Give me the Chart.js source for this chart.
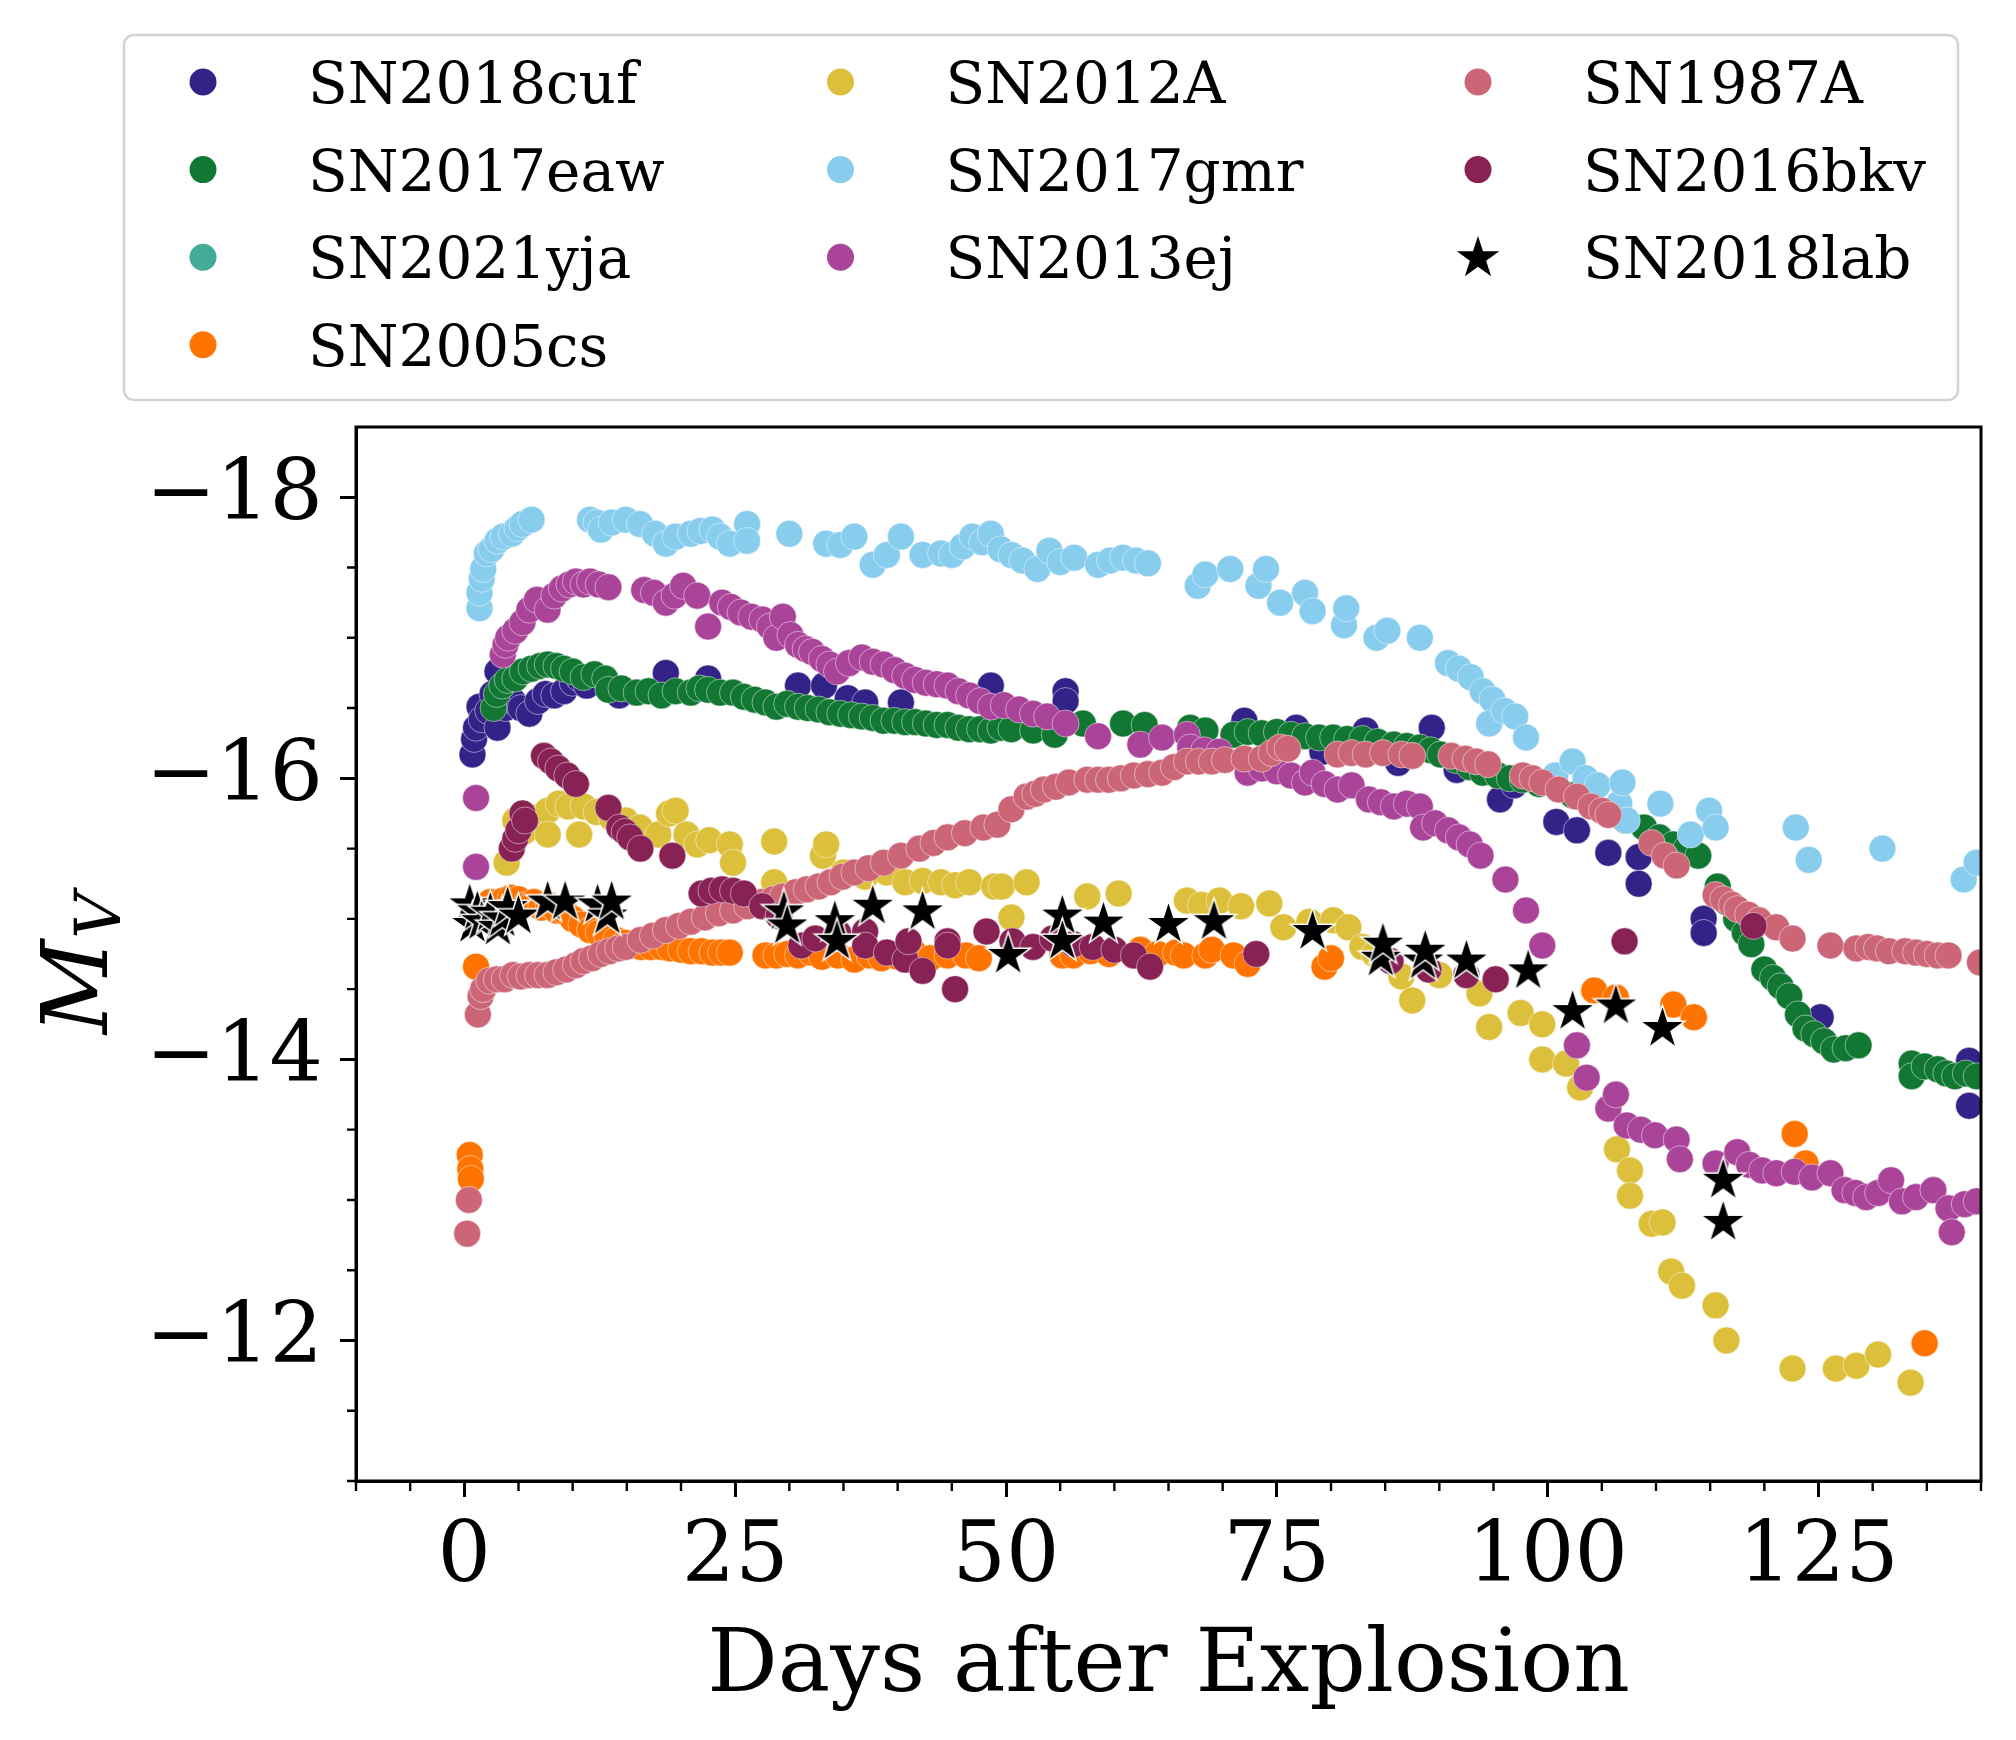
<!DOCTYPE html>
<html>
<head>
<meta charset="utf-8">
<title>Type II SN V-band light curves</title>
<script src="https://cdn.jsdelivr.net/npm/chart.js@4.4.0/dist/chart.umd.min.js"></script>
<style>
  html, body { margin: 0; padding: 0; background: #fff; }
  #wrap { width: 2016px; height: 1740px; }
</style>
</head>
<body>
<div id="wrap"><canvas id="lcChart" width="2016" height="1740"></canvas></div>
<script>
// Values: [days after explosion, M_V]
const sn2018cuf = [[0.75,-16.17],[0.9,-16.28],[1.08,-16.36],[1.4,-16.51],[1.6,-16.42],[2.2,-16.48],[2.6,-16.6],[3.06,-16.76],[3.06,-16.36],[3.8,-16.5],[4.5,-16.55],[5.2,-16.5],[6.0,-16.46],[6.8,-16.55],[7.5,-16.6],[8.3,-16.59],[9.2,-16.62],[10.0,-16.68],[10.6,-16.71],[11.3,-16.66],[14.3,-16.59],[18.6,-16.75],[22.5,-16.71],[30.8,-16.66],[33.2,-16.66],[35.4,-16.57],[37.0,-16.54],[40.3,-16.54],[48.6,-16.66],[55.5,-16.62],[55.5,-16.55],[72.0,-16.41],[76.8,-16.36],[79.2,-16.19],[83.2,-16.34],[86.2,-16.11],[89.3,-16.36],[91.6,-16.06],[95.6,-15.85],[96.9,-15.95],[100.8,-15.69],[102.7,-15.63],[105.6,-15.47],[108.4,-15.44],[108.4,-15.25],[114.4,-15.0],[114.4,-14.9],[125.2,-14.3],[138.9,-13.99],[138.9,-13.67]];
const sn2017eaw = [[2.7,-16.5],[3.0,-16.6],[3.5,-16.66],[4.0,-16.7],[4.7,-16.71],[5.4,-16.76],[6.2,-16.78],[7.0,-16.8],[7.7,-16.81],[8.5,-16.8],[9.2,-16.78],[10.0,-16.76],[11.0,-16.72],[12.0,-16.74],[13.0,-16.71],[13.3,-16.63],[14.5,-16.64],[15.9,-16.61],[17.0,-16.62],[18.2,-16.59],[19.5,-16.62],[20.9,-16.61],[21.7,-16.64],[22.5,-16.63],[23.6,-16.61],[24.8,-16.61],[25.8,-16.58],[26.8,-16.56],[27.8,-16.54],[28.8,-16.51],[29.8,-16.53],[30.8,-16.51],[31.7,-16.5],[32.7,-16.49],[33.7,-16.47],[34.7,-16.46],[35.7,-16.45],[36.7,-16.44],[37.7,-16.43],[38.7,-16.41],[39.7,-16.41],[40.7,-16.4],[41.6,-16.4],[42.6,-16.39],[43.6,-16.38],[44.6,-16.38],[45.6,-16.36],[46.6,-16.35],[47.6,-16.35],[48.6,-16.34],[49.5,-16.36],[50.5,-16.35],[52.5,-16.34],[54.5,-16.31],[57.1,-16.39],[60.8,-16.39],[62.8,-16.38],[67.0,-16.36],[68.4,-16.34],[71.0,-16.31],[72.3,-16.33],[73.6,-16.32],[75.0,-16.33],[76.3,-16.31],[77.6,-16.3],[78.9,-16.29],[80.2,-16.29],[81.5,-16.28],[82.9,-16.28],[84.3,-16.26],[85.8,-16.24],[87.0,-16.23],[88.2,-16.22],[89.2,-16.2],[90.1,-16.17],[91.5,-16.13],[92.8,-16.08],[94.0,-16.04],[95.4,-16.02],[96.5,-16.0],[97.7,-15.99],[99.2,-15.96],[100.7,-15.95],[102.3,-15.88],[104.0,-15.82],[105.5,-15.76],[107.2,-15.7],[108.9,-15.65],[110.3,-15.58],[111.6,-15.53],[112.8,-15.5],[113.9,-15.45],[115.7,-15.23],[116.5,-15.12],[117.4,-15.0],[118.2,-14.9],[118.8,-14.82],[120.0,-14.64],[120.8,-14.58],[121.5,-14.52],[122.3,-14.45],[123.1,-14.32],[123.8,-14.22],[124.6,-14.18],[125.5,-14.13],[126.4,-14.07],[127.5,-14.08],[128.7,-14.1],[133.6,-13.97],[133.6,-13.88],[134.8,-13.95],[136.0,-13.93],[136.8,-13.9],[137.6,-13.88],[138.6,-13.9],[139.6,-13.88]];
const sn2021yja = [];
const sn2005cs = [[0.5,-13.32],[0.55,-13.22],[0.6,-13.15],[1.08,-14.66],[1.3,-15.0],[1.8,-15.08],[2.4,-15.12],[3.0,-15.1],[3.6,-15.13],[4.3,-15.15],[5.0,-15.14],[5.7,-15.1],[6.4,-15.12],[7.1,-15.08],[7.8,-15.1],[8.5,-15.06],[9.3,-15.05],[10.0,-15.0],[10.8,-14.96],[11.6,-14.92],[12.4,-14.9],[13.2,-14.87],[14.0,-14.85],[14.8,-14.83],[15.6,-14.81],[16.3,-14.8],[17.2,-14.8],[18.2,-14.8],[19.0,-14.79],[20.0,-14.78],[20.9,-14.77],[21.9,-14.77],[22.9,-14.76],[23.7,-14.76],[24.5,-14.76],[27.8,-14.74],[28.8,-14.74],[29.8,-14.75],[30.8,-14.74],[32.0,-14.76],[33.0,-14.73],[34.5,-14.74],[36.0,-14.71],[37.4,-14.74],[38.5,-14.72],[40.0,-14.73],[41.5,-14.76],[43.0,-14.72],[44.6,-14.74],[46.3,-14.74],[47.5,-14.72],[55.2,-14.74],[56.2,-14.74],[57.8,-14.77],[59.5,-14.75],[61.8,-14.74],[62.4,-14.78],[64.0,-14.75],[65.7,-14.76],[66.4,-14.74],[68.4,-14.74],[69.0,-14.78],[71.0,-14.74],[72.3,-14.68],[79.4,-14.66],[80.0,-14.72],[104.3,-14.49],[106.3,-14.44],[111.6,-14.39],[113.5,-14.3],[122.8,-13.47],[123.8,-13.26],[134.8,-11.98]];
const sn2012A = [[3.9,-15.4],[4.7,-15.7],[5.5,-15.62],[6.3,-15.72],[7.7,-15.77],[7.7,-15.6],[8.7,-15.82],[9.6,-15.8],[10.6,-15.6],[11.0,-15.8],[12.2,-15.76],[13.6,-15.72],[14.9,-15.7],[16.2,-15.65],[17.9,-15.6],[18.9,-15.75],[19.5,-15.77],[20.5,-15.6],[21.5,-15.53],[22.6,-15.56],[24.5,-15.53],[24.8,-15.4],[28.6,-15.55],[28.6,-15.26],[30.5,-15.18],[33.1,-15.45],[33.4,-15.53],[35.0,-15.33],[37.0,-15.3],[39.0,-15.33],[40.7,-15.26],[42.3,-15.27],[44.0,-15.26],[45.3,-15.24],[46.6,-15.26],[48.9,-15.23],[49.6,-15.23],[50.5,-15.01],[51.9,-15.26],[57.5,-15.16],[60.4,-15.18],[66.7,-15.13],[68.0,-15.1],[69.7,-15.13],[71.7,-15.09],[74.3,-15.11],[75.6,-14.94],[78.0,-14.98],[80.2,-14.99],[81.6,-14.94],[82.9,-14.8],[84.0,-14.75],[86.5,-14.59],[87.5,-14.42],[90.0,-14.6],[93.7,-14.47],[94.6,-14.23],[97.5,-14.33],[99.5,-14.25],[99.5,-14.0],[101.7,-13.97],[103.0,-13.8],[106.4,-13.36],[107.6,-13.21],[107.6,-13.03],[109.6,-12.83],[110.6,-12.84],[111.4,-12.49],[112.4,-12.39],[115.5,-12.25],[116.5,-12.0],[122.6,-11.8],[126.6,-11.8],[128.5,-11.82],[130.5,-11.9],[133.5,-11.7]];
const sn2017gmr = [[1.4,-17.21],[1.4,-17.32],[1.6,-17.42],[1.74,-17.49],[2.07,-17.6],[2.5,-17.63],[3.06,-17.69],[3.6,-17.72],[4.38,-17.74],[4.9,-17.78],[5.37,-17.81],[6.2,-17.84],[11.6,-17.84],[12.2,-17.82],[12.6,-17.77],[13.6,-17.82],[14.9,-17.84],[16.2,-17.81],[17.6,-17.74],[18.6,-17.67],[19.5,-17.72],[20.9,-17.74],[21.8,-17.76],[22.9,-17.77],[23.6,-17.72],[24.5,-17.67],[26.1,-17.81],[26.1,-17.69],[30.0,-17.74],[33.4,-17.67],[34.7,-17.66],[36.0,-17.72],[37.7,-17.52],[39.0,-17.59],[40.3,-17.72],[42.3,-17.59],[44.0,-17.6],[45.0,-17.59],[46.0,-17.65],[46.9,-17.72],[47.8,-17.68],[48.6,-17.74],[49.5,-17.63],[50.5,-17.59],[51.5,-17.55],[52.9,-17.49],[54.0,-17.62],[55.0,-17.54],[56.3,-17.57],[58.5,-17.52],[59.6,-17.55],[60.8,-17.57],[62.0,-17.55],[63.1,-17.53],[67.7,-17.37],[68.4,-17.45],[70.7,-17.49],[73.3,-17.37],[74.0,-17.49],[75.3,-17.25],[77.6,-17.32],[78.3,-17.19],[81.2,-17.09],[81.4,-17.21],[84.2,-17.0],[85.2,-17.05],[88.2,-17.0],[90.8,-16.82],[91.8,-16.78],[92.9,-16.72],[94.0,-16.62],[94.9,-16.56],[94.6,-16.39],[96.0,-16.48],[97.0,-16.44],[98.0,-16.29],[100.7,-16.02],[102.3,-16.12],[103.5,-16.0],[104.6,-15.95],[106.6,-15.82],[106.9,-15.97],[107.3,-15.7],[110.4,-15.82],[113.2,-15.6],[114.9,-15.77],[115.5,-15.65],[122.9,-15.65],[124.1,-15.42],[130.9,-15.5],[138.4,-15.28],[139.6,-15.4]];
const sn2013ej = [[1.08,-15.86],[1.08,-15.37],[3.55,-16.88],[3.8,-16.95],[4.05,-17.0],[4.7,-17.05],[5.37,-17.11],[6.0,-17.2],[6.7,-17.27],[7.68,-17.2],[8.3,-17.3],[9.0,-17.35],[9.7,-17.38],[10.3,-17.4],[11.0,-17.38],[11.6,-17.4],[12.4,-17.38],[13.3,-17.36],[16.6,-17.34],[17.5,-17.32],[18.6,-17.25],[19.4,-17.3],[20.2,-17.37],[21.5,-17.3],[22.5,-17.08],[23.8,-17.25],[24.6,-17.22],[25.5,-17.18],[26.5,-17.15],[27.5,-17.13],[28.2,-17.08],[28.8,-17.0],[29.4,-17.15],[30.1,-17.02],[30.8,-16.95],[31.5,-16.92],[32.1,-16.9],[33.0,-16.85],[33.7,-16.81],[34.4,-16.76],[35.5,-16.82],[36.7,-16.86],[37.7,-16.83],[38.7,-16.81],[39.7,-16.77],[40.7,-16.73],[41.6,-16.7],[42.6,-16.68],[43.6,-16.67],[44.6,-16.66],[45.6,-16.62],[46.6,-16.59],[47.6,-16.55],[48.6,-16.51],[49.8,-16.52],[51.2,-16.49],[52.5,-16.46],[53.8,-16.44],[55.5,-16.39],[58.5,-16.3],[62.4,-16.24],[64.4,-16.29],[66.7,-16.31],[67.0,-16.22],[68.3,-16.2],[69.7,-16.19],[72.3,-16.04],[73.6,-16.07],[75.0,-16.05],[76.3,-16.02],[77.6,-15.97],[78.3,-16.04],[79.4,-15.96],[80.6,-15.92],[81.9,-15.95],[83.5,-15.85],[84.6,-15.83],[85.8,-15.8],[87.0,-15.82],[88.2,-15.8],[88.5,-15.65],[89.6,-15.68],[90.8,-15.63],[91.8,-15.58],[92.8,-15.53],[93.8,-15.45],[96.1,-15.28],[98.0,-15.06],[99.5,-14.81],[102.7,-14.1],[103.6,-13.87],[105.6,-13.65],[106.3,-13.75],[107.3,-13.53],[108.6,-13.5],[109.9,-13.46],[111.9,-13.43],[112.2,-13.29],[115.5,-13.26],[117.5,-13.34],[118.6,-13.25],[119.8,-13.21],[121.1,-13.19],[122.8,-13.2],[124.4,-13.16],[126.1,-13.19],[127.4,-13.07],[128.4,-13.05],[129.4,-13.02],[130.5,-13.05],[131.7,-13.14],[132.7,-12.99],[134.0,-13.02],[135.6,-13.07],[137.0,-12.94],[137.3,-12.77],[138.5,-12.97],[139.6,-12.99]];
const sn1987A = [[0.26,-12.76],[0.42,-13.0],[1.25,-14.32],[1.5,-14.45],[1.74,-14.5],[2.3,-14.56],[3.0,-14.57],[3.72,-14.57],[4.5,-14.6],[5.2,-14.59],[6.0,-14.6],[6.8,-14.6],[7.68,-14.6],[8.5,-14.62],[9.4,-14.64],[10.3,-14.67],[11.0,-14.7],[11.8,-14.72],[12.6,-14.75],[13.4,-14.77],[14.2,-14.79],[14.9,-14.8],[16.25,-14.85],[17.4,-14.88],[18.6,-14.92],[19.8,-14.95],[20.9,-14.98],[22.2,-15.01],[23.5,-15.04],[24.8,-15.06],[26.1,-15.09],[27.4,-15.12],[28.5,-15.14],[29.4,-15.16],[30.6,-15.19],[31.6,-15.21],[32.7,-15.23],[33.8,-15.26],[34.9,-15.3],[36.0,-15.33],[37.3,-15.36],[38.7,-15.4],[40.3,-15.45],[42.0,-15.5],[43.3,-15.54],[44.6,-15.58],[46.2,-15.61],[47.9,-15.65],[49.2,-15.67],[50.5,-15.78],[51.9,-15.87],[52.7,-15.89],[53.5,-15.92],[54.6,-15.94],[55.8,-15.97],[57.5,-15.99],[58.5,-15.99],[59.5,-15.99],[60.6,-16.0],[61.8,-16.02],[63.1,-16.03],[64.4,-16.04],[65.5,-16.08],[66.7,-16.12],[67.8,-16.12],[69.0,-16.12],[70.2,-16.13],[72.0,-16.14],[73.6,-16.14],[74.5,-16.18],[75.3,-16.22],[76.0,-16.21],[80.6,-16.17],[81.9,-16.18],[83.2,-16.17],[84.8,-16.18],[86.5,-16.17],[87.5,-16.16],[91.1,-16.16],[92.4,-16.14],[93.4,-16.12],[94.5,-16.1],[97.7,-16.02],[98.6,-16.0],[99.5,-15.97],[101.0,-15.92],[102.7,-15.87],[104.0,-15.8],[105.0,-15.77],[105.6,-15.74],[109.6,-15.54],[110.8,-15.45],[111.9,-15.38],[115.5,-15.17],[116.2,-15.14],[117.0,-15.1],[117.5,-15.07],[118.5,-15.03],[119.5,-14.99],[121.1,-14.94],[122.6,-14.86],[126.1,-14.81],[128.5,-14.79],[129.6,-14.8],[130.4,-14.79],[131.5,-14.77],[133.0,-14.77],[134.0,-14.76],[135.0,-14.75],[136.0,-14.74],[137.0,-14.74],[139.9,-14.69]];
const sn2016bkv = [[4.38,-15.5],[4.7,-15.57],[5.0,-15.63],[5.37,-15.75],[5.6,-15.7],[7.35,-16.16],[8.0,-16.12],[8.67,-16.07],[9.5,-16.02],[10.3,-15.96],[13.3,-15.79],[14.3,-15.65],[14.8,-15.62],[15.3,-15.58],[16.25,-15.5],[19.2,-15.45],[21.9,-15.18],[22.8,-15.2],[23.8,-15.21],[24.8,-15.2],[25.8,-15.18],[27.5,-15.09],[29.0,-15.02],[31.1,-14.81],[32.4,-14.86],[34.5,-14.9],[37.0,-14.91],[37.0,-14.81],[39.0,-14.76],[40.7,-14.71],[41.0,-14.84],[42.3,-14.63],[44.6,-14.84],[44.6,-14.81],[45.3,-14.5],[48.2,-14.91],[50.6,-14.84],[52.5,-14.8],[54.3,-14.86],[56.2,-14.82],[58.0,-14.8],[60.0,-14.78],[61.8,-14.74],[63.3,-14.66],[73.1,-14.75],[85.5,-14.7],[89.0,-14.64],[92.5,-14.6],[95.2,-14.57],[107.1,-14.84],[119.0,-14.95]];
const sn2018lab = [[0.5,-15.1],[0.75,-14.96],[1.2,-15.05],[1.6,-14.98],[2.4,-15.04],[3.1,-14.94],[3.5,-15.0],[4.0,-15.08],[5.0,-15.02],[7.7,-15.12],[9.3,-15.12],[12.3,-15.1],[13.2,-15.02],[13.6,-15.12],[29.5,-15.05],[29.8,-14.95],[34.2,-14.98],[34.4,-14.84],[37.7,-15.09],[42.3,-15.05],[50.2,-14.74],[55.2,-15.02],[55.2,-14.84],[59.0,-14.97],[65.0,-14.96],[69.2,-14.98],[78.3,-14.91],[84.6,-14.72],[84.8,-14.82],[88.5,-14.7],[88.7,-14.77],[92.5,-14.7],[98.2,-14.63],[102.3,-14.34],[106.3,-14.38],[110.6,-14.22],[116.2,-13.14],[116.2,-12.84]];

const seriesNames = ['SN2018cuf', 'SN2017eaw', 'SN2021yja', 'SN2005cs', 'SN2012A',
                     'SN2017gmr', 'SN2013ej', 'SN1987A', 'SN2016bkv', 'SN2018lab'];
const seriesData = [sn2018cuf, sn2017eaw, sn2021yja, sn2005cs, sn2012A,
                    sn2017gmr, sn2013ej, sn1987A, sn2016bkv, sn2018lab];
const seriesColors = ['#332288', '#117733', '#44AA99', '#FF7400', '#DCBF3A',
                      '#88CCEE', '#AA4499', '#CC6677', '#882255', '#000000'];

const xTicks = [0, 25, 50, 75, 100, 125];
const xMinorTicks = [-10, -5, 5, 10, 15, 20, 30, 35, 40, 45, 55, 60, 65, 70, 80, 85, 90, 95, 105, 110, 115, 120, 130, 135, 140];
const yTicks = [-18, -16, -14, -12];
const yMinorTicks = [-17.5, -17, -16.5, -15.5, -15, -14.5, -13.5, -13, -12.5, -11.5, -11];

const FONT = 'DejaVu Serif';
const STAR_R = 23.5;
const DOT_R = 13.5;

// matplotlib-style filled star with a thin white edge
function starPath(ctx, cx, cy, R) {
    ctx.beginPath();
    for (let k = 0; k < 10; k++) {
        const a = -Math.PI / 2 + k * Math.PI / 5;
        const r = k % 2 === 0 ? R : R * 0.381966;
        const px = cx + r * Math.cos(a), py = cy + r * Math.sin(a);
        if (k === 0) ctx.moveTo(px, py); else ctx.lineTo(px, py);
    }
    ctx.closePath();
}

function makeStarImage(R) {
    const c = document.createElement('canvas');
    const s = Math.ceil(2 * R + 6);
    c.width = s; c.height = s;
    const g = c.getContext('2d');
    starPath(g, s / 2, s / 2, R);
    g.fillStyle = '#000';
    g.fill();
    g.lineWidth = 1.5;
    g.strokeStyle = '#fff';
    g.lineJoin = 'miter';
    g.stroke();
    return c;
}

const starImage = makeStarImage(STAR_R);

function fmtMinus(v) {
    return v < 0 ? '\u2212' + Math.abs(v) : String(v);
}

// frame, minor ticks, y label and the 3-column legend
const decorPlugin = {
    id: 'decor',
    afterDatasetsDraw(chart) {
        const {ctx, chartArea: a} = chart;
        ctx.save();
        ctx.strokeStyle = '#000';
        ctx.lineWidth = 3;
        ctx.strokeRect(a.left, a.top, a.right - a.left, a.bottom - a.top);
        ctx.restore();
    },
    afterDraw(chart) {
        const {ctx, chartArea: a, scales} = chart;
        ctx.save();
        ctx.strokeStyle = '#000';
        ctx.lineWidth = 2.4;
        ctx.beginPath();
        xMinorTicks.forEach(v => {
            const px = scales.x.getPixelForValue(v);
            ctx.moveTo(px, a.bottom);
            ctx.lineTo(px, a.bottom + 10);
        });
        yMinorTicks.forEach(v => {
            const py = scales.y.getPixelForValue(v);
            ctx.moveTo(a.left, py);
            ctx.lineTo(a.left - 9, py);
        });
        ctx.stroke();

        // y label: italic M with subscript V
        ctx.fillStyle = '#000';
        ctx.translate(107, 1034);
        ctx.rotate(-Math.PI / 2);
        ctx.textAlign = 'left';
        ctx.textBaseline = 'alphabetic';
        ctx.font = 'italic 92px "' + FONT + '"';
        ctx.fillText('M', 0, 0);
        const mw = ctx.measureText('M').width;
        ctx.font = 'italic 64px "' + FONT + '"';
        ctx.fillText('V', mw + 1, 13);
        ctx.restore();

        // legend box
        const box = {x: 124, y: 35, w: 1834, h: 365, r: 10};
        ctx.save();
        ctx.beginPath();
        ctx.roundRect(box.x, box.y, box.w, box.h, box.r);
        ctx.fillStyle = 'rgba(255,255,255,0.8)';
        ctx.fill();
        ctx.lineWidth = 2.5;
        ctx.strokeStyle = '#d4d4d4';
        ctx.stroke();

        const ds = chart.data.datasets;
        const ncol = 3;
        const n = ds.length;
        const colSizes = [];
        for (let c = 0; c < ncol; c++) colSizes.push(Math.floor(n / ncol) + (c < n % ncol ? 1 : 0));
        const colX = [203, 840.5, 1478];
        const rowY0 = 82, rowStep = 87.6;
        ctx.font = '58px "' + FONT + '"';
        ctx.textAlign = 'left';
        ctx.textBaseline = 'alphabetic';
        let idx = 0;
        for (let c = 0; c < ncol; c++) {
            for (let r = 0; r < colSizes[c]; r++, idx++) {
                const d = ds[idx];
                const cx = colX[c], cy = rowY0 + r * rowStep;
                if (d.pointStyle === starImage) {
                    starPath(ctx, cx, cy + 1, STAR_R * 0.95);
                    ctx.fillStyle = '#000';
                    ctx.fill();
                } else {
                    ctx.beginPath();
                    ctx.arc(cx, cy, DOT_R, 0, Math.PI * 2);
                    ctx.fillStyle = d.backgroundColor;
                    ctx.fill();
                }
                ctx.fillStyle = '#000';
                ctx.fillText(d.label, cx + 105, cy + 21);
            }
        }
        ctx.restore();
    }
};

const datasets = seriesNames.map((name, i) => {
    const isStar = name === 'SN2018lab';
    return {
        label: name,
        data: seriesData[i].map(p => ({x: p[0], y: p[1]})),
        backgroundColor: seriesColors[i],
        borderColor: isStar ? '#fff' : 'rgba(255,255,255,0.6)',
        borderWidth: isStar ? 0 : 0.8,
        pointStyle: isStar ? starImage : 'circle',
        pointRadius: isStar ? STAR_R : DOT_R,
        pointHoverRadius: isStar ? STAR_R : DOT_R,
        showLine: false,
        clip: 0,
        order: seriesNames.length - i
    };
});

const ctx = document.getElementById('lcChart');
new Chart(ctx, {
    type: 'scatter',
    data: {datasets},
    options: {
        responsive: false,
        devicePixelRatio: 1,
        animation: false,
        events: [],
        layout: {padding: {top: 427, right: 35, bottom: 0, left: 0}},
        plugins: {
            legend: {display: false},
            tooltip: {enabled: false}
        },
        scales: {
            x: {
                type: 'linear',
                min: -10,
                max: 140,
                afterBuildTicks: s => { s.ticks = xTicks.map(v => ({value: v})); },
                afterFit: s => { s.height = 259; },
                grid: {display: true, drawOnChartArea: false, drawTicks: true, tickLength: 16, tickWidth: 3, tickColor: '#000'},
                border: {display: true, color: '#000', width: 3},
                ticks: {
                    font: {family: FONT, size: 84},
                    color: '#000',
                    padding: 12,
                    maxRotation: 0,
                    autoSkip: false
                },
                title: {
                    display: true,
                    text: 'Days after Explosion',
                    font: {family: FONT, size: 88},
                    color: '#000',
                    padding: {top: 0, bottom: 19}
                }
            },
            y: {
                type: 'linear',
                reverse: true,
                min: -18.5,
                max: -11,
                afterBuildTicks: s => { s.ticks = yTicks.map(v => ({value: v})); },
                afterFit: s => { s.width = 356; },
                grid: {display: true, drawOnChartArea: false, drawTicks: true, tickLength: 16, tickWidth: 3, tickColor: '#000'},
                border: {display: true, color: '#000', width: 3},
                ticks: {
                    font: {family: FONT, size: 84},
                    color: '#000',
                    padding: 17,
                    autoSkip: false,
                    callback: v => fmtMinus(v)
                }
            }
        }
    },
    plugins: [decorPlugin]
});
</script>
</body>
</html>
